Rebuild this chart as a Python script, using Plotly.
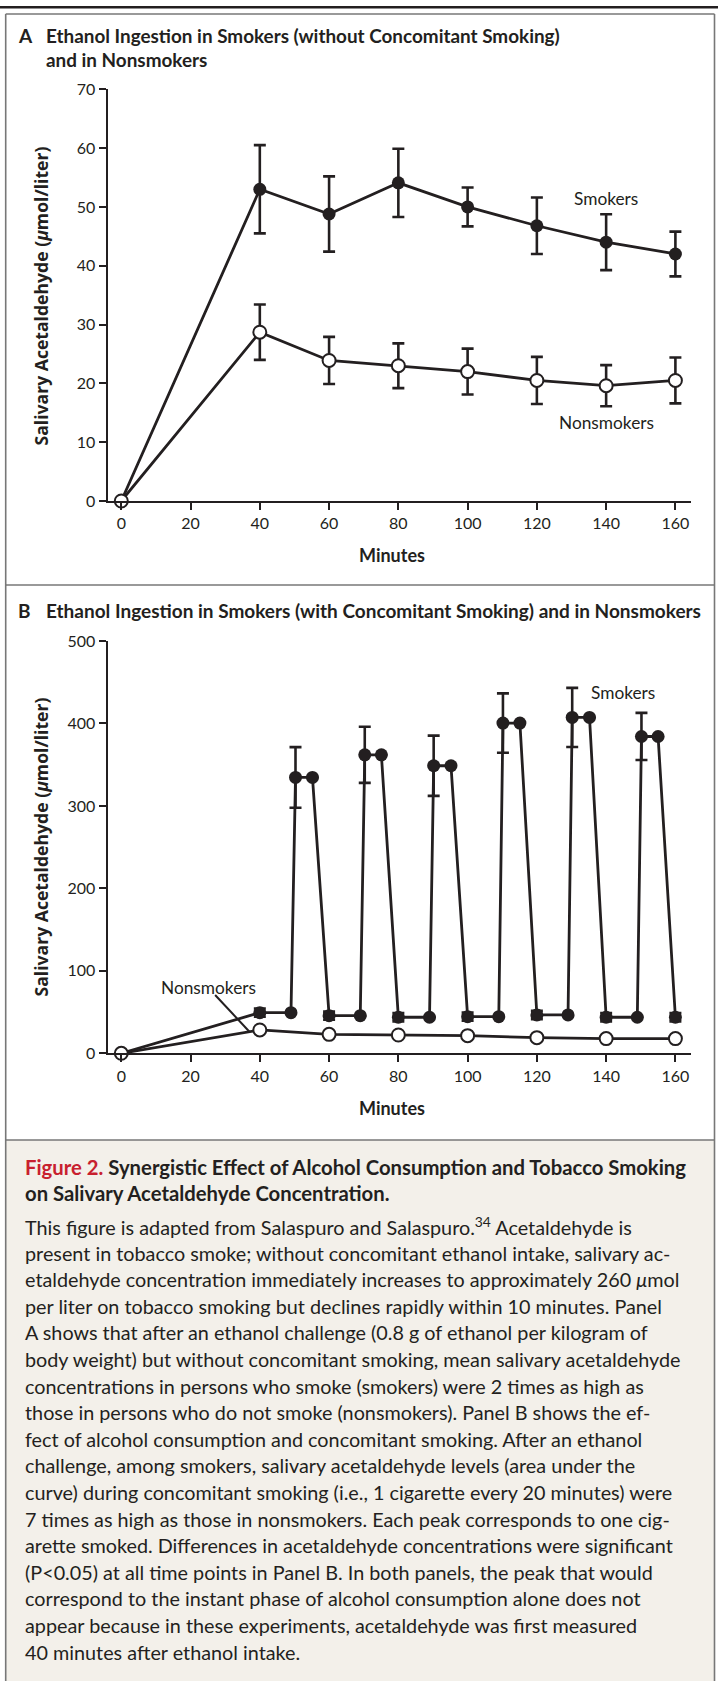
import plotly.graph_objects as go

W, H = 718, 1681
INK = "#231f20"
FONT = "Lato"

# ---------------- Data ----------------
# Panel A
minutes_a = [0, 40, 60, 80, 100, 120, 140, 160]
smokers_a = [0, 53.0, 48.8, 54.1, 50.0, 46.8, 44.0, 42.0]
smokers_a_err = [0, 7.5, 6.4, 5.8, 3.3, 4.8, 4.75, 3.8]
nonsmokers_a = [0, 28.7, 23.9, 23.0, 22.0, 20.5, 19.6, 20.5]
nonsmokers_a_err = [0, 4.7, 4.0, 3.8, 3.9, 4.0, 3.5, 3.9]

# Panel B
minutes_b_smokers = [0, 40, 49, 50.3, 55.2, 60, 69, 70.3, 75.1, 80, 89, 90.2, 95.2,
                     100, 109, 110.2, 115.1, 120, 129, 130.2, 135.2, 140, 149, 150.2, 155, 160]
smokers_b = [0, 49.3, 49.3, 334.5, 334.5, 45.6, 45.6, 362.0, 362.0, 43.7, 43.7, 348.7, 348.7,
             44.4, 44.4, 400.5, 400.5, 46.5, 46.5, 407.3, 407.3, 43.7, 43.7, 384.2, 384.2, 43.7]
smokers_b_err = [0, 5, 0, 36.8, 0, 5, 0, 34.0, 0, 5, 0, 36.5, 0,
                 5, 0, 36.0, 0, 5, 0, 35.8, 0, 5, 0, 28.6, 0, 5]
minutes_b_non = [0, 40, 60, 80, 100, 120, 140, 160]
nonsmokers_b = [0, 28.3, 23.0, 22.2, 21.4, 19.0, 17.8, 17.8]

x_ticks = [0, 20, 40, 60, 80, 100, 120, 140, 160]
y_ticks_a = [0, 10, 20, 30, 40, 50, 60, 70]
y_ticks_b = [0, 100, 200, 300, 400, 500]

# ---------------- Geometry helpers ----------------
def px(x):
    return x / W

def py(y):
    return 1 - y / H

X0_PX, X160_PX = 121.3, 675.4
K = (X160_PX - X0_PX) / 160.0
AX_L, AX_R = 107.6, 691.4
x_range = [(AX_L - X0_PX) / K, (AX_R - X0_PX) / K]

A_TOP, A_BOT = 89.3, 501.0
B_TOP, B_BOT = 641.0, 1053.3

fig = go.Figure()

line_style = dict(color=INK, width=2.8)
err_style = dict(color=INK, thickness=2.6, width=6)

# Panel A traces
fig.add_trace(go.Scatter(
    x=minutes_a, y=smokers_a, mode="lines+markers", xaxis="x", yaxis="y",
    line=line_style, marker=dict(size=13, color=INK),
    error_y=dict(type="data", array=smokers_a_err, visible=True, **err_style),
    cliponaxis=False, showlegend=False))
fig.add_trace(go.Scatter(
    x=minutes_a, y=nonsmokers_a, mode="lines+markers", xaxis="x", yaxis="y",
    line=line_style, marker=dict(size=13, color="white", line=dict(color=INK, width=2)),
    error_y=dict(type="data", array=nonsmokers_a_err, visible=True, **err_style),
    cliponaxis=False, showlegend=False))

# Panel B traces
fig.add_trace(go.Scatter(
    x=minutes_b_smokers, y=smokers_b, mode="lines+markers", xaxis="x2", yaxis="y2",
    line=line_style, marker=dict(size=13, color=INK),
    error_y=dict(type="data", array=smokers_b_err, visible=True, **err_style),
    cliponaxis=False, showlegend=False))
fig.add_trace(go.Scatter(
    x=minutes_b_non, y=nonsmokers_b, mode="lines+markers", xaxis="x2", yaxis="y2",
    line=line_style, marker=dict(size=13, color="white", line=dict(color=INK, width=2)),
    cliponaxis=False, showlegend=False))

axis_common = dict(
    showline=True, linecolor=INK, linewidth=2, ticks="outside", ticklen=7,
    tickwidth=2, tickcolor=INK, showgrid=False, zeroline=False, automargin=False,
    tickfont=dict(family=FONT, size=16, color=INK),
)

fig.update_layout(
    width=W, height=H, autosize=False,
    margin=dict(l=0, r=0, t=0, b=0, pad=0, autoexpand=False),
    paper_bgcolor="white", plot_bgcolor="rgba(0,0,0,0)",
    xaxis=dict(domain=[px(AX_L), px(AX_R)], range=x_range, tickvals=x_ticks,
               anchor="y", **axis_common),
    yaxis=dict(domain=[py(A_BOT), py(A_TOP)], range=[0, 70], tickvals=y_ticks_a,
               anchor="x", **axis_common),
    xaxis2=dict(domain=[px(AX_L), px(AX_R)], range=x_range, tickvals=x_ticks,
                anchor="y2", **axis_common),
    yaxis2=dict(domain=[py(B_BOT), py(B_TOP)], range=[0, 500], tickvals=y_ticks_b,
                anchor="x2", **axis_common),
)

# ---------------- Frames ----------------
FR_L, FR_R = 5.7, 714.5
GRAY = "#777777"
shapes = [
    dict(type="rect", xref="paper", yref="paper", x0=px(FR_L), x1=px(FR_R),
         y0=0, y1=py(1140), fillcolor="#f3f0ea", line=dict(width=0), layer="below"),
    dict(type="line", xref="paper", yref="paper", x0=0, x1=1, y0=py(7.3), y1=py(7.3),
         line=dict(color=INK, width=2.6)),
    dict(type="line", xref="paper", yref="paper", x0=px(FR_L), x1=px(FR_R), y0=py(14), y1=py(14),
         line=dict(color=GRAY, width=1.6)),
    dict(type="line", xref="paper", yref="paper", x0=px(FR_L), x1=px(FR_R), y0=py(585), y1=py(585),
         line=dict(color=GRAY, width=1.6)),
    dict(type="line", xref="paper", yref="paper", x0=px(FR_L), x1=px(FR_R), y0=py(1140), y1=py(1140),
         line=dict(color=GRAY, width=1.6)),
    dict(type="line", xref="paper", yref="paper", x0=px(FR_L), x1=px(FR_L), y0=py(14), y1=0,
         line=dict(color=GRAY, width=1.6)),
    dict(type="line", xref="paper", yref="paper", x0=px(FR_R), x1=px(FR_R), y0=py(14), y1=0,
         line=dict(color=GRAY, width=1.6)),
    # leader line for Nonsmokers label in panel B
    dict(type="line", xref="x2", yref="y2", x0=27.1, y0=70.7, x1=37.0, y1=26.2,
         line=dict(color=INK, width=2)),
]
fig.update_layout(shapes=shapes)

# ---------------- Text ----------------
anns = []

def ann(text, x, y, size, xanchor="left", yanchor="middle", color=INK, angle=0,
        xref="paper", yref="paper", family=FONT):
    anns.append(dict(text=text, x=x, y=y, xref=xref, yref=yref, xanchor=xanchor,
                     yanchor=yanchor, showarrow=False, textangle=angle,
                     font=dict(family=family, size=size, color=color)))

# Panel titles
ann("<b>A</b>", px(16), py(35), 19)
ann("<b>Ethanol Ingestion in Smokers (without Concomitant Smoking)</b>", px(44), py(35), 18.9)
ann("<b>and in Nonsmokers</b>", px(44), py(59), 18.9)
ann("<b>B</b>", px(16), py(610), 19)
ann("<b>Ethanol Ingestion in Smokers (with Concomitant Smoking) and in Nonsmokers</b>",
    px(44), py(610), 19.0)

# Axis titles
ytitle = "<b>Salivary Acetaldehyde (<i>μ</i>mol/liter)</b>"
ann(ytitle, px(40.5), py(296), 17.6, xanchor="center", angle=-90, family="Open Sans")
ann(ytitle, px(40.5), py(847), 17.6, xanchor="center", angle=-90, family="Open Sans")
ann("<b>Minutes</b>", px(391.5), py(555), 18, xanchor="center")
ann("<b>Minutes</b>", px(391.5), py(1108), 18, xanchor="center")

# Series labels
ann("Smokers", 140, 51.4, 17.3, xanchor="center", xref="x", yref="y")
ann("Nonsmokers", 140, 13.4, 17.3, xanchor="center", xref="x", yref="y")
ann("Smokers", 144.8, 437.3, 17.3, xanchor="center", xref="x2", yref="y2")
ann("Nonsmokers", 25.1, 80.0, 17.3, xanchor="center", xref="x2", yref="y2")

# Caption
ann("<b><span style='color:#c8202f'>Figure 2.</span> Synergistic Effect of Alcohol Consumption and Tobacco Smoking</b>",
    px(23), py(1166.7), 20.3)
ann("<b>on Salivary Acetaldehyde Concentration.</b>", px(23), py(1193), 20.3)

caption_lines = [
    "This figure is adapted from Salaspuro and Salaspuro.<sup>34</sup> Acetaldehyde is",
    "present in tobacco smoke; without concomitant ethanol intake, salivary ac-",
    "etaldehyde concentration immediately increases to approximately 260 <i>μ</i>mol",
    "per liter on tobacco smoking but declines rapidly within 10 minutes. Panel",
    "A shows that after an ethanol challenge (0.8 g of ethanol per kilogram of",
    "body weight) but without concomitant smoking, mean salivary acetaldehyde",
    "concentrations in persons who smoke (smokers) were 2 times as high as",
    "those in persons who do not smoke (nonsmokers). Panel B shows the ef-",
    "fect of alcohol consumption and concomitant smoking. After an ethanol",
    "challenge, among smokers, salivary acetaldehyde levels (area under the",
    "curve) during concomitant smoking (i.e., 1 cigarette every 20 minutes) were",
    "7 times as high as those in nonsmokers. Each peak corresponds to one cig-",
    "arette smoked. Differences in acetaldehyde concentrations were significant",
    "(P&lt;0.05) at all time points in Panel B. In both panels, the peak that would",
    "correspond to the instant phase of alcohol consumption alone does not",
    "appear because in these experiments, acetaldehyde was first measured",
    "40 minutes after ethanol intake.",
]
for i, line in enumerate(caption_lines):
    ann(line, px(23), py(1226 + i * 26.6), 19.8)

fig.update_layout(annotations=anns)

fig.write_html(
    "out.html",
    config={"displayModeBar": False},
    post_script=(
        "var g=document.getElementById('{plot_id}');"
        "g.style.position='fixed';g.style.top='0px';g.style.left='0px';"
        "document.body.style.margin='0';document.body.style.overflow='hidden';"
        "document.documentElement.style.overflow='hidden';"
    ),
)
